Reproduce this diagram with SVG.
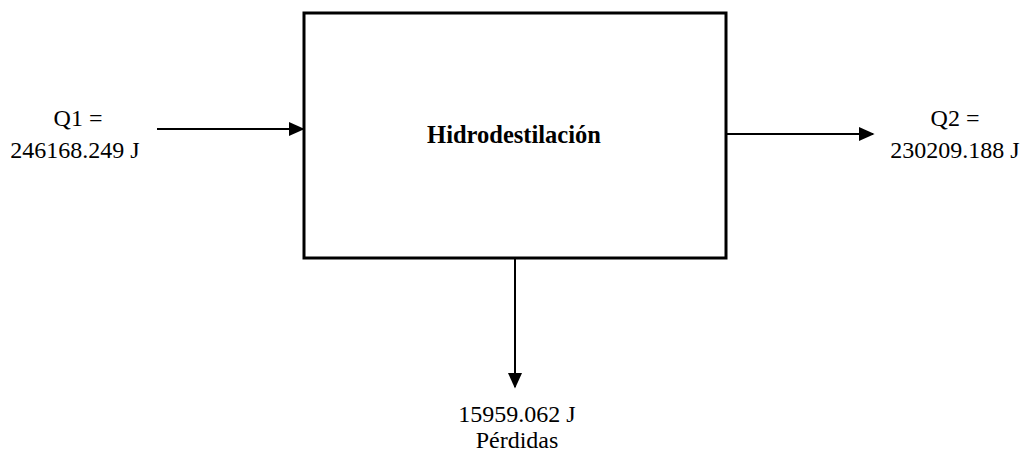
<svg xmlns="http://www.w3.org/2000/svg" width="1024" height="456" viewBox="0 0 1024 456">
<style>
.t{font-family:'Liberation Serif','Times New Roman',serif;font-size:24px;fill:#000;text-anchor:middle}
.b{font-weight:bold;font-size:24.5px}
.c{stroke:#000;stroke-width:2;fill:none}
</style>
<defs>
<marker id="a" viewBox="0 0 10 10" refX="9" refY="5" markerWidth="16" markerHeight="16" markerUnits="userSpaceOnUse" orient="auto">
<path d="M0,0.5 L10,5 L0,9.5 Z" fill="#000"/>
</marker>
</defs>
<rect width="1024" height="456" fill="#fff"/>
<g id="box">
<rect x="304" y="13" width="422" height="245" fill="#fff" stroke="#000" stroke-width="3"/>
<text class="t b" x="514" y="143">Hidrodestilación</text>
</g>
<g id="q1">
<text class="t" x="78" y="126">Q1 =</text>
<text class="t" x="75" y="158">246168.249 J</text>
</g>
<g id="q2">
<text class="t" x="955" y="126">Q2 =</text>
<text class="t" x="955" y="158">230209.188 J</text>
</g>
<g id="loss">
<text class="t" x="517" y="422">15959.062 J</text>
<text class="t" x="517" y="448">Pérdidas</text>
</g>
<g id="connectors">
<line class="c" x1="157" y1="129" x2="303" y2="129" marker-end="url(#a)"/>
<line class="c" x1="727" y1="134" x2="873" y2="134" marker-end="url(#a)"/>
<line class="c" x1="515" y1="259" x2="515" y2="387" marker-end="url(#a)"/>
</g>
</svg>
